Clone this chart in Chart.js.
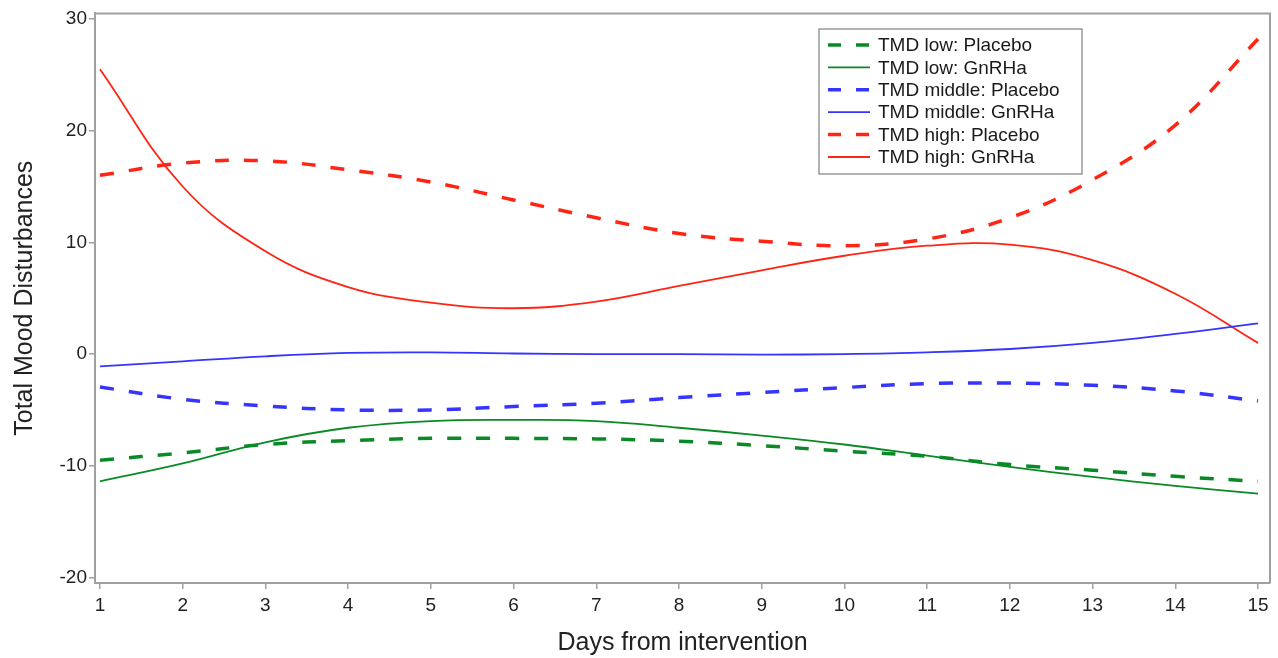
<!DOCTYPE html>
<html>
<head>
  <meta charset="utf-8">
  <title>Total Mood Disturbances</title>
  <style>
    html, body { margin: 0; padding: 0; background: #fff; }
    #wrap { width: 1278px; height: 658px; }
  </style>
</head>
<body>
  <div id="wrap"><canvas id="tmdChart"></canvas></div>

<script src="https://cdn.jsdelivr.net/npm/chart.js"></script>
<script>
    // values, one per day
    const days = [1, 2, 3, 4, 5, 6, 7, 8, 9, 10, 11, 12, 13, 14, 15];
    const lowPlacebo = [-9.5, -8.85, -8.1, -7.75, -7.55, -7.55, -7.6, -7.8, -8.2, -8.7, -9.15, -9.9, -10.4, -10.95, -11.4];
    const lowGnRHa = [-11.4, -9.8, -7.9, -6.6, -6.0, -5.9, -6.0, -6.6, -7.3, -8.1, -9.1, -10.1, -11.0, -11.8, -12.5];
    const middlePlacebo = [-2.95, -4.05, -4.65, -5.0, -5.0, -4.7, -4.4, -3.9, -3.45, -3.0, -2.65, -2.6, -2.8, -3.3, -4.2];
    const middleGnRHa = [-1.1, -0.65, -0.2, 0.1, 0.15, 0.05, 0.0, 0.0, -0.05, 0.0, 0.15, 0.45, 1.0, 1.8, 2.75];
    const highPlacebo = [16.0, 17.1, 17.3, 16.5, 15.4, 13.8, 12.2, 10.8, 10.1, 9.7, 10.3, 12.2, 15.6, 20.5, 28.2];
    const highGnRHa = [25.5, 15.0, 9.2, 6.0, 4.6, 4.1, 4.7, 6.1, 7.5, 8.8, 9.7, 9.8, 8.4, 5.4, 1.0];

    const xTicks = [1, 2, 3, 4, 5, 6, 7, 8, 9, 10, 11, 12, 13, 14, 15];
    const yTicks = [-20, -10, 0, 10, 20, 30];

    const green = '#0a8a26';
    const blue = '#3535ff';
    const red = '#ff2414';
    const frameColor = '#a0a0a0';
    const font = 'Liberation Sans, Arial, sans-serif';

    function series(label, values, color, dashed) {
        return {
            label: label,
            data: days.map((d, i) => ({ x: d, y: values[i] })),
            borderColor: color,
            backgroundColor: color,
            borderWidth: dashed ? 3.5 : 1.8,
            borderDash: dashed ? [14, 15] : [],
            pointRadius: 0,
            tension: 0.4,
            fill: false,
        };
    }

    // frame on top and right, plus the legend box inside the plot
    const framePlugin = {
        id: 'frame',
        afterDatasetsDraw(chart) {
            const ctx = chart.ctx;
            const a = chart.chartArea;
            ctx.save();
            ctx.strokeStyle = frameColor;
            ctx.lineWidth = 2;
            ctx.beginPath();
            ctx.moveTo(a.left, a.top);
            ctx.lineTo(a.right, a.top);
            ctx.lineTo(a.right, a.bottom);
            ctx.stroke();

            // legend
            const bx = 819, by = 29, bw = 263, bh = 145;
            ctx.fillStyle = '#fff';
            ctx.fillRect(bx, by, bw, bh);
            ctx.strokeStyle = '#808080';
            ctx.lineWidth = 1.2;
            ctx.strokeRect(bx, by, bw, bh);
            ctx.font = '19px ' + font;
            ctx.textBaseline = 'middle';
            chart.data.datasets.forEach((ds, i) => {
                const y = by + 16 + i * 22.4;
                ctx.strokeStyle = ds.borderColor;
                ctx.lineWidth = ds.borderDash.length ? 3.5 : 1.8;
                ctx.setLineDash(ds.borderDash.length ? [13, 15] : []);
                ctx.beginPath();
                ctx.moveTo(bx + 9, y);
                ctx.lineTo(bx + 51, y);
                ctx.stroke();
                ctx.setLineDash([]);
                ctx.fillStyle = '#1a1a1a';
                ctx.fillText(ds.label, bx + 59, y + 1);
            });
            ctx.restore();
        }
    };

    new Chart(document.getElementById('tmdChart'), {
        type: 'line',
        data: {
            datasets: [
                series('TMD low: Placebo', lowPlacebo, green, true),
                series('TMD low: GnRHa', lowGnRHa, green, false),
                series('TMD middle: Placebo', middlePlacebo, blue, true),
                series('TMD middle: GnRHa', middleGnRHa, blue, false),
                series('TMD high: Placebo', highPlacebo, red, true),
                series('TMD high: GnRHa', highGnRHa, red, false),
            ],
        },
        options: {
            responsive: true,
            maintainAspectRatio: false,
            animation: false,
            layout: { padding: { top: 8, right: 8, left: 0, bottom: 0 } },
            plugins: {
                legend: { display: false },
                tooltip: { enabled: false },
            },
            scales: {
                x: {
                    type: 'linear',
                    min: 0.94,
                    max: 15.145,
                    afterBuildTicks: (s) => { s.ticks = xTicks.map(v => ({ value: v })); },
                    afterFit: (s) => { s.height = 75; },
                    grid: { display: true, drawOnChartArea: false, drawTicks: true, tickLength: 6, color: frameColor, lineWidth: 1.5 },
                    border: { display: true, color: frameColor, width: 2 },
                    ticks: { color: '#222', font: { family: font, size: 19 }, padding: 5, maxRotation: 0 },
                    title: { display: true, text: 'Days from intervention', color: '#222', font: { family: font, size: 25 }, padding: { top: 0, bottom: 0 } },
                },
                y: {
                    min: -20.5,
                    max: 30.5,
                    afterBuildTicks: (s) => { s.ticks = yTicks.map(v => ({ value: v })); },
                    afterFit: (s) => { s.width = 95; },
                    grid: { display: true, drawOnChartArea: false, drawTicks: true, tickLength: 6, color: frameColor, lineWidth: 1.5 },
                    border: { display: true, color: frameColor, width: 2 },
                    ticks: { color: '#222', font: { family: font, size: 19 }, padding: 2 },
                    title: { display: true, text: 'Total Mood Disturbances', color: '#222', font: { family: font, size: 25 }, padding: { top: 10, bottom: 0 } },
                },
            },
        },
        plugins: [framePlugin],
    });
</script>
</body>
</html>
